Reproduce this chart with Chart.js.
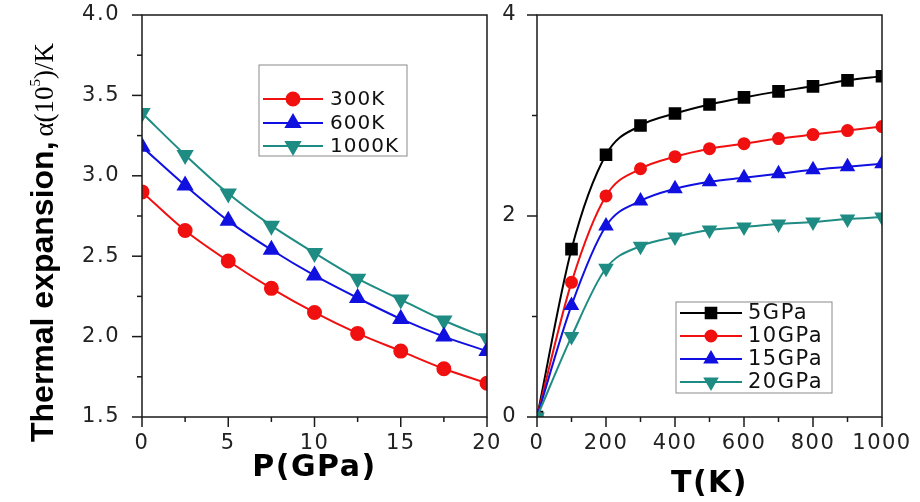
<!DOCTYPE html>
<html>
<head>
<meta charset="utf-8">
<script src="https://cdn.jsdelivr.net/npm/chart.js"></script>
<style>
  html, body { margin: 0; padding: 0; background: #fff; }
  #wrap { position: relative; width: 920px; height: 502px; overflow: hidden; }
  #left { position: absolute; left: 0; top: 0; }
  #right { position: absolute; left: 500px; top: 0; }
</style>
</head>
<body>
<div id="wrap">
  <canvas id="left" width="500" height="502"></canvas>
  <canvas id="right" width="420" height="502"></canvas>
</div>
<script>
// left panel: alpha vs pressure
const pressure = [0, 2.5, 5, 7.5, 10, 12.5, 15, 17.5, 20];
const alpha300K = [2.90, 2.66, 2.47, 2.30, 2.15, 2.02, 1.91, 1.80, 1.71];
const alpha600K = [3.18, 2.94, 2.72, 2.54, 2.38, 2.24, 2.11, 2.00, 1.91];
const alpha1000K = [3.39, 3.13, 2.89, 2.69, 2.52, 2.36, 2.23, 2.10, 1.99];

// right panel: alpha vs temperature
const temperature = [0, 100, 200, 300, 400, 500, 600, 700, 800, 900, 1000];
const alpha5GPa = [0, 1.67, 2.61, 2.90, 3.02, 3.11, 3.18, 3.24, 3.29, 3.35, 3.39];
const alpha10GPa = [0, 1.34, 2.20, 2.47, 2.59, 2.67, 2.72, 2.77, 2.81, 2.85, 2.89];
const alpha15GPa = [0, 1.11, 1.90, 2.15, 2.27, 2.34, 2.38, 2.42, 2.46, 2.49, 2.52];
const alpha20GPa = [0, 0.80, 1.48, 1.70, 1.79, 1.86, 1.89, 1.92, 1.94, 1.97, 1.99];

const RED = '#f01010', BLUE = '#1010e0', TEAL = '#1f8c84', BLACK = '#000000';
const TICK_FONT = {family: '"DejaVu Sans", sans-serif', size: 21};

const toPoints = (xs, ys) => xs.map((x, i) => ({x: x, y: ys[i]}));

function series(label, xs, ys, color, style, r, rot, order) {
    return {
        label: label,
        data: toPoints(xs, ys),
        borderColor: color,
        backgroundColor: color,
        pointBackgroundColor: color,
        pointBorderColor: color,
        pointStyle: style,
        pointRadius: r,
        pointRotation: rot || 0,
        borderWidth: 2,
        order: order || 0,
        cubicInterpolationMode: 'monotone'
    };
}

// box frame + outward ticks (major longer than minor)
const frameTicks = {
    id: 'frameTicks',
    afterDatasetsDraw(chart) {
        const {ctx, chartArea: a} = chart;
        ctx.save();
        ctx.strokeStyle = '#1a1a1a';
        ctx.lineWidth = 1.5;
        ctx.strokeRect(a.left, a.top, a.right - a.left, a.bottom - a.top);
        ['x', 'y'].forEach(id => {
            const s = chart.scales[id];
            s.ticks.forEach(t => {
                const p = s.getPixelForValue(t.value);
                const len = t.label !== '' ? 10 : 5;
                ctx.beginPath();
                if (id === 'x') { ctx.moveTo(p, a.bottom); ctx.lineTo(p, a.bottom + len); }
                else { ctx.moveTo(a.left, p); ctx.lineTo(a.left - len, p); }
                ctx.stroke();
            });
        });
        ctx.restore();
    }
};

// legend drawn inside the plot in a gray box
const boxLegend = {
    id: 'boxLegend',
    afterDatasetsDraw(chart, args, o) {
        const ctx = chart.ctx;
        ctx.save();
        ctx.strokeStyle = '#8a8a8a';
        ctx.lineWidth = 1;
        ctx.strokeRect(o.x, o.y, o.w, o.h);
        ctx.font = o.font;
        ctx.textBaseline = 'middle';
        ctx.letterSpacing = o.spacing;
        chart.data.datasets.forEach((ds, i) => {
            const y = o.rows[i];
            ctx.strokeStyle = ds.borderColor;
            ctx.lineWidth = 2;
            ctx.beginPath(); ctx.moveTo(o.x0, y); ctx.lineTo(o.x1, y); ctx.stroke();
            ctx.fillStyle = ds.pointBackgroundColor;
            Chart.helpers.drawPoint(ctx, {
                pointStyle: ds.pointStyle, radius: ds.pointRadius,
                rotation: ds.pointRotation, borderWidth: 1
            }, (o.x0 + o.x1) / 2, y);
            ctx.fillStyle = '#111';
            ctx.fillText(ds.label, o.tx, y + 1);
        });
        ctx.restore();
    }
};

// y title with mixed fonts
const yTitle = {
    id: 'yTitle',
    afterDraw(chart) {
        const ctx = chart.ctx;
        ctx.save();
        ctx.translate(53, 442);
        ctx.rotate(-Math.PI / 2);
        ctx.fillStyle = '#000';
        ctx.textBaseline = 'alphabetic';
        ctx.letterSpacing = '0px';
        ctx.font = 'bold 32px "Liberation Sans", Arial, sans-serif';
        const p1 = 'Thermal expansion, ';
        ctx.fillText(p1, 0, 0);
        let x = ctx.measureText(p1).width - 4;
        ctx.font = '27px "Liberation Serif", serif';
        ctx.fillText('\u03b1(10', x, 0); x += ctx.measureText('\u03b1(10').width;
        ctx.font = '15px "Liberation Serif", serif';
        ctx.fillText('5', x, -13); x += ctx.measureText('5').width;
        ctx.font = '27px "Liberation Serif", serif';
        ctx.fillText(')/K', x, 0);
        ctx.restore();
    }
};

const spacing = {
    id: 'spacing',
    beforeDraw(chart) { chart.ctx.letterSpacing = '1.5px'; }
};

// fixed scale sizes, no label overflow padding
function fixSize(prop, size) {
    return s => {
        s[prop] = size;
        s.paddingTop = s.paddingBottom = s.paddingLeft = s.paddingRight = 0;
    };
}

function axes(xmin, xmax, xstep, xmajor, ymin, ymax, ystep, ymajor, yfmt, ywidth, xtitle, xtitlePad) {
    return {
        x: {
            type: 'linear', min: xmin, max: xmax,
            grid: {display: false, drawTicks: false}, border: {display: false},
            ticks: {
                stepSize: xstep, autoSkip: false, maxRotation: 0, padding: 14,
                color: '#222', font: TICK_FONT,
                callback: v => (Math.abs(v / xmajor - Math.round(v / xmajor)) < 1e-6 ? String(v) : '')
            },
            title: {
                display: true, text: xtitle, color: '#000',
                font: {family: '"DejaVu Sans", sans-serif', size: 30, weight: 'bold'},
                padding: {top: 0, bottom: xtitlePad}
            },
            afterFit: fixSize('height', 85)
        },
        y: {
            type: 'linear', min: ymin, max: ymax,
            grid: {display: false, drawTicks: false}, border: {display: false},
            ticks: {
                stepSize: ystep, autoSkip: false, padding: ywidth > 100 ? 22 : 20,
                color: '#222', font: TICK_FONT,
                callback: v => (Math.abs(v / ymajor - Math.round(v / ymajor)) < 1e-6 ? yfmt(v) : '')
            },
            afterFit: fixSize('width', ywidth)
        }
    };
}

new Chart(document.getElementById('left'), {
    type: 'line',
    data: {
        datasets: [
            series('300K', pressure, alpha300K, RED, 'circle', 6.5),
            series('600K', pressure, alpha600K, BLUE, 'triangle', 8),
            series('1000K', pressure, alpha1000K, TEAL, 'triangle', 8, 180)
        ]
    },
    options: {
        responsive: false,
        animation: false,
        layout: {padding: {left: 0, right: 13, top: 15, bottom: 0}, autoPadding: false},
        scales: axes(0, 20, 2.5, 5, 1.5, 4.0, 0.25, 0.5, v => v.toFixed(1), 142, 'P(GPa)', 16),
        plugins: {
            legend: {display: false},
            tooltip: {enabled: false},
            boxLegend: {
                x: 259, y: 65, w: 148, h: 91, rows: [99, 123, 146],
                x0: 263, x1: 323, tx: 330,
                font: '20px "DejaVu Sans", sans-serif', spacing: '1px'
            }
        }
    },
    plugins: [spacing, frameTicks, boxLegend, yTitle]
});

new Chart(document.getElementById('right'), {
    type: 'line',
    data: {
        datasets: [
            series('5GPa', temperature, alpha5GPa, BLACK, 'rect', 7.5, 0, 3),
            series('10GPa', temperature, alpha10GPa, RED, 'circle', 5.5, 0, 2),
            series('15GPa', temperature, alpha15GPa, BLUE, 'triangle', 7, 0, 1),
            series('20GPa', temperature, alpha20GPa, TEAL, 'triangle', 7, 180, 0)
        ]
    },
    options: {
        responsive: false,
        animation: false,
        layout: {padding: {left: 0, right: 38, top: 15, bottom: 0}, autoPadding: false},
        scales: axes(0, 1000, 100, 200, 0, 4, 1, 2, v => String(v), 37, 'T(K)', 0),
        plugins: {
            legend: {display: false},
            tooltip: {enabled: false},
            boxLegend: {
                x: 176, y: 302, w: 156, h: 91, rows: [313, 336, 359, 382],
                x0: 180, x1: 242, tx: 248,
                font: '21px "DejaVu Sans", sans-serif', spacing: '1.5px'
            }
        }
    },
    plugins: [spacing, frameTicks, boxLegend]
});
</script>
</body>
</html>
